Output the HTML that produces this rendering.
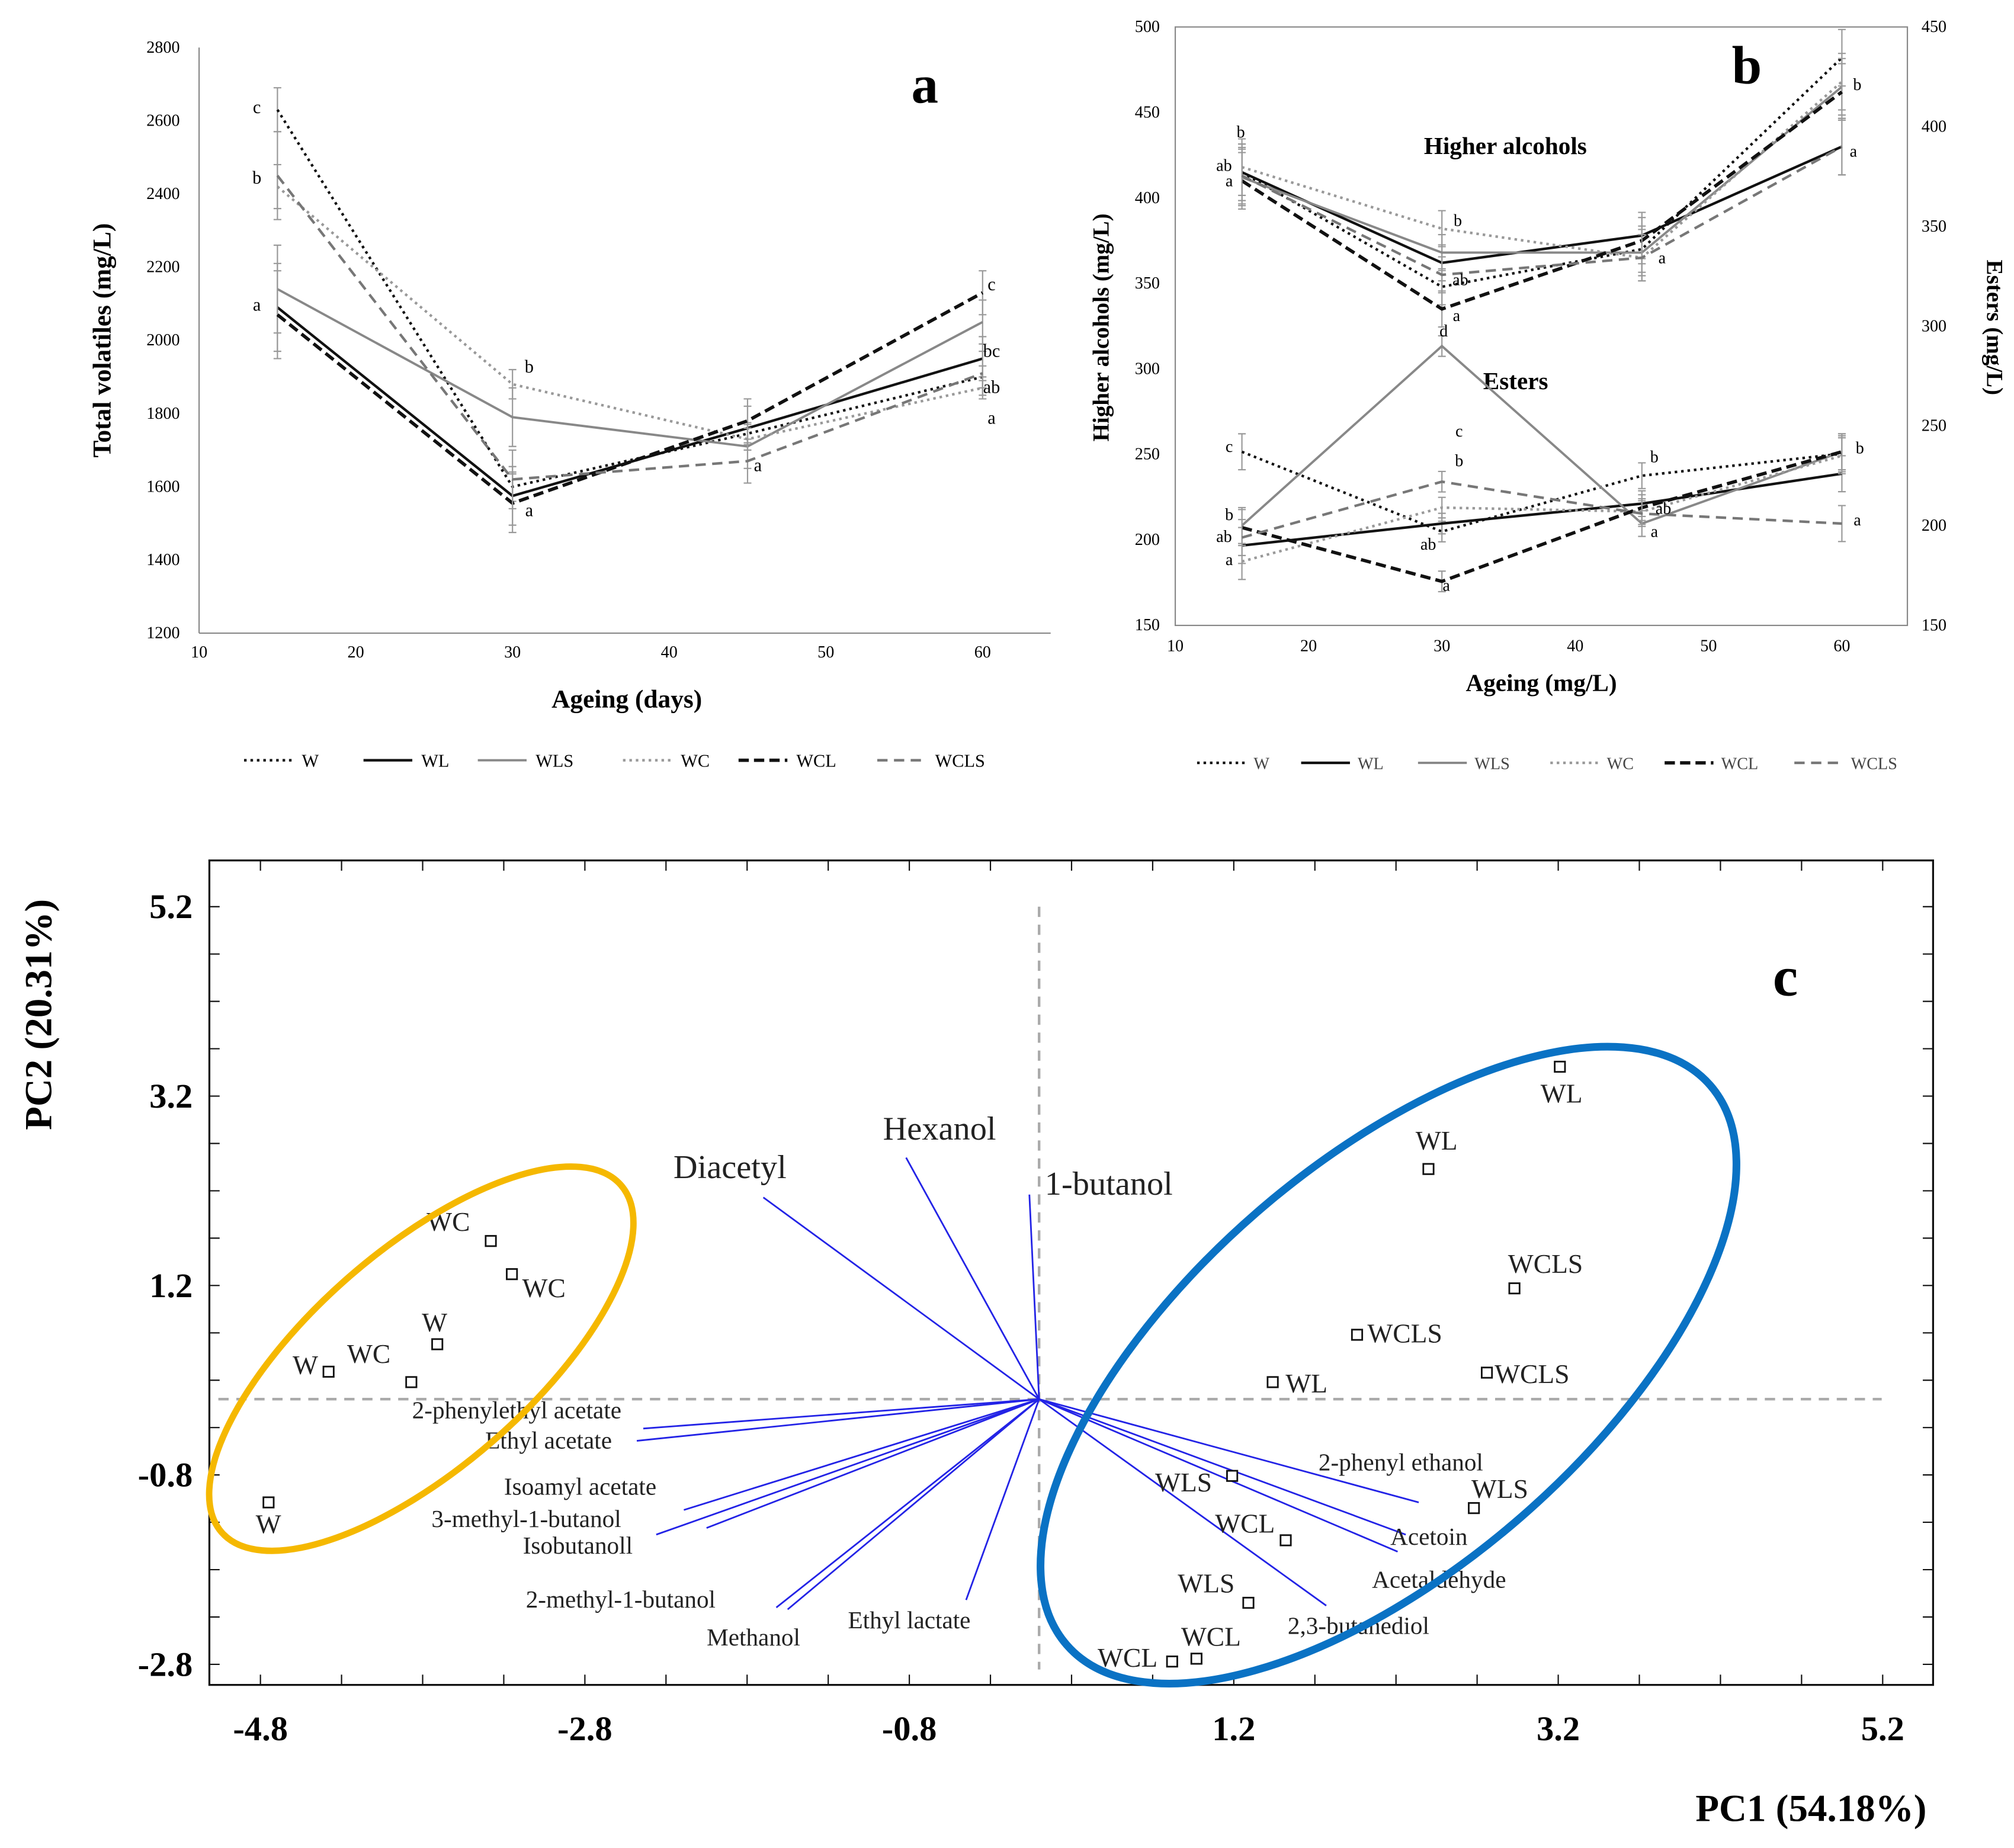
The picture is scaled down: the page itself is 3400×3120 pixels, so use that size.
<!DOCTYPE html>
<html><head><meta charset="utf-8"><style>
html,body{margin:0;padding:0;background:#fff}
svg{display:block;font-family:"Liberation Serif",serif}
</style></head><body>
<svg id="fig" width="3400" height="3120" viewBox="0 0 1568 1439" preserveAspectRatio="none" xmlns="http://www.w3.org/2000/svg">
<rect width="1568" height="1439" fill="#fff"/>
<g id="pa"></g>
<g id="pb"></g>
<g id="pc"></g>
</svg>
<script>
// ---------- data ----------
const seriesNames = ["W","WL","WLS","WC","WCL","WCLS"];
const days = [15,30,45,60];
const totalW    = [2630,1600,1745,1900];
const totalWL   = [2090,1575,1760,1950];
const totalWLS  = [2140,1790,1710,2050];
const totalWC   = [2420,1880,1730,1870];
const totalWCL  = [2070,1555,1780,2130];
const totalWCLS = [2450,1620,1670,1910];
const totalErr  = [120,80,60,60];
const aTicksX = [10,20,30,40,50,60];
const aTicksY = [1200,1400,1600,1800,2000,2200,2400,2600,2800];
const alcW    = [415,348,370,482];
const alcWL   = [415,362,378,430];
const alcWLS  = [412,368,368,465];
const alcWC   = [418,382,365,468];
const alcWCL  = [410,335,375,462];
const alcWCLS = [413,355,365,430];
const estW    = [237,197,225,236];
const estWL   = [190,201,211,226];
const estWLS  = [200,290,201,237];
const estWC   = [182,209,207,235];
const estWCL  = [199,172,209,237];
const estWCLS = [194,222,206,201];
const bTicksY = [150,200,250,300,350,400,450,500];
const bTicksY2 = [150,200,250,300,350,400,450];
const pcLabels = ["W","W","W","WC","WC","WC","WL","WL","WL","WCLS","WCLS","WCLS","WLS","WLS","WLS","WCL","WCL","WCL"];
const pcX = [-4.75,-4.38,-3.71,-3.87,-3.38,-3.25,3.21,2.40,1.44,2.93,1.96,2.76,1.19,2.68,1.29,1.52,0.82,0.97];
const pcY = [-1.09,0.29,0.58,0.18,1.67,1.32,3.51,2.43,0.18,1.17,0.68,0.28,-0.81,-1.15,-2.15,-1.49,-2.77,-2.74];
const loadNames = ["Diacetyl","Hexanol","1-butanol","2-phenylethyl acetate","Ethyl acetate","Isoamyl acetate","3-methyl-1-butanol","Isobutanoll","2-methyl-1-butanol","Methanol","Ethyl lactate","2-phenyl ethanol","Acetoin","Acetaldehyde","2,3-butanediol"];
const loadX = [-1.70,-0.82,-0.06,-2.44,-2.48,-2.19,-2.36,-2.05,-1.62,-1.55,-0.45,2.34,2.26,2.21,1.77];
const loadY = [2.13,2.55,2.16,-0.31,-0.44,-1.17,-1.43,-1.36,-2.20,-2.22,-2.12,-1.09,-1.43,-1.61,-2.18];
const cTicks = [-4.8,-2.8,-0.8,1.2,3.2,5.2];

// ---------- helpers ----------
const NS="http://www.w3.org/2000/svg";
function mk(parent,tag,attrs,txt){const e=document.createElementNS(NS,tag);for(const k in attrs)e.setAttribute(k,attrs[k]);if(txt!==undefined)e.textContent=txt;parent.appendChild(e);return e;}
const styles={
 W:{stroke:"#111",dash:"2,3",w:2},
 WL:{stroke:"#111",dash:"",w:2},
 WLS:{stroke:"#888",dash:"",w:1.8},
 WC:{stroke:"#999",dash:"2,3",w:2},
 WCL:{stroke:"#111",dash:"8,4",w:2.6},
 WCLS:{stroke:"#777",dash:"8,5",w:2}
};

// ---------- panel a ----------
const pa=document.getElementById("pa");
const ax=v=>155+(v-10)*12.2, ay=v=>37+(2800-v)*0.285;
mk(pa,"line",{x1:155,y1:37,x2:155,y2:493,stroke:"#888","stroke-width":1});
mk(pa,"line",{x1:155,y1:493,x2:818,y2:493,stroke:"#888","stroke-width":1});
aTicksY.forEach(t=>{const e=mk(pa,"text",{x:140,y:ay(t)+4,"font-size":13,"text-anchor":"end"},t);
});
aTicksX.forEach(t=>{const e=mk(pa,"text",{x:ax(t),y:512,"font-size":13,"text-anchor":"middle"},t);
});
mk(pa,"text",{x:488,y:551,"font-size":20,"font-weight":"bold","text-anchor":"middle"},"Ageing (days)");
mk(pa,"text",{x:86,y:265,"font-size":20,"font-weight":"bold","text-anchor":"middle",transform:"rotate(-90 86 265)"},"Total volatiles (mg/L)");
mk(pa,"text",{x:720,y:80,"font-size":42,"font-weight":"bold","text-anchor":"middle"},"a");
const aData={W:totalW,WL:totalWL,WLS:totalWLS,WC:totalWC,WCL:totalWCL,WCLS:totalWCLS};
seriesNames.forEach(n=>{const s=styles[n];
 days.forEach((d,i)=>{const v=aData[n][i];const e=totalErr[i]*(n==="WC"||n==="W"?0.5:1);
  const g=mk(pa,"path",{d:`M${ax(d)},${ay(v-e)}V${ay(v+e)}M${ax(d)-3},${ay(v-e)}h6M${ax(d)-3},${ay(v+e)}h6`,stroke:"#999","stroke-width":1,fill:"none"});
  });
 const p=mk(pa,"polyline",{points:days.map((d,i)=>ax(d)+","+ay(aData[n][i])).join(" "),fill:"none",stroke:s.stroke,"stroke-width":s.w,"stroke-dasharray":s.dash});
 });
[["c",200,88],["b",200,143],["a",200,242],["b",412,290],["a",412,402],["a",590,367],["c",772,226],["bc",772,278],["ab",772,306],["a",772,330]].forEach(l=>{
 const e=mk(pa,"text",{x:l[1],y:l[2],"font-size":14,"text-anchor":"middle"},l[0]);});
const legA=[190,283,372,485,575,683];
seriesNames.forEach((n,i)=>{const s=styles[n];
 const l=mk(pa,"line",{x1:legA[i],y1:592,x2:legA[i]+38,y2:592,stroke:s.stroke,"stroke-width":s.w,"stroke-dasharray":s.dash});
 
 const t=mk(pa,"text",{x:legA[i]+45,y:597,"font-size":14},n);});

// ---------- panel b ----------
const pb=document.getElementById("pb");
const bx=v=>915+(v-10)*10.38, by=v=>21+(500-v)*1.331, by2=v=>21+(450-v)*1.553;
mk(pb,"rect",{x:915,y:21,width:570,height:466,fill:"none",stroke:"#888","stroke-width":1});
bTicksY.forEach(t=>{const e=mk(pb,"text",{x:903,y:by(t)+4,"font-size":13,"text-anchor":"end"},t);});
bTicksY2.forEach(t=>{const e=mk(pb,"text",{x:1496,y:by2(t)+4,"font-size":13},t);});
aTicksX.forEach(t=>{const e=mk(pb,"text",{x:bx(t),y:507,"font-size":13,"text-anchor":"middle"},t);});
mk(pb,"text",{x:1200,y:538,"font-size":19,"font-weight":"bold","text-anchor":"middle"},"Ageing (mg/L)");
mk(pb,"text",{x:863,y:255,"font-size":18,"font-weight":"bold","text-anchor":"middle",transform:"rotate(-90 863 255)"},"Higher alcohols (mg/L)");
mk(pb,"text",{x:1547,y:255,"font-size":18,"font-weight":"bold","text-anchor":"middle",transform:"rotate(90 1547 255)"},"Esters (mg/L)");
mk(pb,"text",{x:1360,y:65,"font-size":42,"font-weight":"bold","text-anchor":"middle"},"b");
mk(pb,"text",{x:1172,y:120,"font-size":19,"font-weight":"bold","text-anchor":"middle"},"Higher alcohols");
mk(pb,"text",{x:1180,y:303,"font-size":19,"font-weight":"bold","text-anchor":"middle"},"Esters");
const alc={W:alcW,WL:alcWL,WLS:alcWLS,WC:alcWC,WCL:alcWCL,WCLS:alcWCLS};
const est={W:estW,WL:estWL,WLS:estWLS,WC:estWC,WCL:estWCL,WCLS:estWCLS};
function bLines(data,yf,name,err){seriesNames.forEach(n=>{const s=styles[n];
 days.forEach((d,i)=>{const y=yf(data[n][i]);const e=err[i];
  const g=mk(pb,"path",{d:`M${bx(d)},${y-e}V${y+e}M${bx(d)-3},${y-e}h6M${bx(d)-3},${y+e}h6`,stroke:"#999","stroke-width":1,fill:"none"});
  });
 const p=mk(pb,"polyline",{points:days.map((d,i)=>bx(d)+","+yf(data[n][i])).join(" "),fill:"none",stroke:s.stroke,"stroke-width":s.w,"stroke-dasharray":s.dash});
 });}
bLines(alc,by,"alcohols",[22,14,18,22]);
bLines(est,by2,"esters",[14,8,10,14]);
[["b",966,107],["ab",953,133],["a",957,145],["b",1135,176],["ab",1137,222],["a",1134,250],["a",1294,205],["b",1446,70],["a",1443,122],
 ["c",957,352],["b",957,405],["ab",953,422],["a",957,440],["d",1124,262],["c",1136,340],["b",1136,363],["ab",1112,428],["a",1126,460],["b",1288,360],["ab",1295,400],["a",1288,418],["b",1448,353],["a",1446,409]].forEach(l=>{
 const e=mk(pb,"text",{x:l[1],y:l[2],"font-size":13,"text-anchor":"middle"},l[0]);});
const legB=[932,1013,1104,1207,1296,1397];
seriesNames.forEach((n,i)=>{const s=styles[n];
 const l=mk(pb,"line",{x1:legB[i],y1:594,x2:legB[i]+38,y2:594,stroke:s.stroke,"stroke-width":s.w,"stroke-dasharray":s.dash});
 
 const t=mk(pb,"text",{x:legB[i]+44,y:599,"font-size":13,fill:"#444"},n);});

// ---------- panel c ----------
const pc=document.getElementById("pc");
const cx=v=>809+v*126.3, cy=v=>1089.5-v*73.75;
mk(pc,"rect",{x:163,y:670,width:1342,height:642,fill:"none",stroke:"#111","stroke-width":1.5});
for(let v=-5.3;v<=5.7;v+=0.5){const x=cx(v);if(x<165||x>1503)continue;
 mk(pc,"line",{x1:x,y1:1312,x2:x,y2:1304,stroke:"#111","stroke-width":1});mk(pc,"line",{x1:x,y1:670,x2:x,y2:678,stroke:"#111","stroke-width":1});}
for(let v=-3.3;v<=5.7;v+=0.5){const y=cy(v);if(y<672||y>1310)continue;
 mk(pc,"line",{x1:163,y1:y,x2:171,y2:y,stroke:"#111","stroke-width":1});mk(pc,"line",{x1:1505,y1:y,x2:1497,y2:y,stroke:"#111","stroke-width":1});}
cTicks.forEach(t=>{
 const e=mk(pc,"text",{x:cx(t),y:1355,"font-size":27,"font-weight":"bold","text-anchor":"middle"},t);
 if(t>-3){const f=mk(pc,"text",{x:150,y:cy(t)+9,"font-size":27,"font-weight":"bold","text-anchor":"end"},t);}});
mk(pc,"text",{x:1410,y:1418,"font-size":30,"font-weight":"bold","text-anchor":"middle"},"PC1 (54.18%)");
mk(pc,"text",{x:40,y:790,"font-size":30,"font-weight":"bold","text-anchor":"middle",transform:"rotate(-90 40 790)"},"PC2 (20.31%)");
mk(pc,"text",{x:1390,y:775,"font-size":44,"font-weight":"bold","text-anchor":"middle"},"c");
mk(pc,"line",{x1:cx(0),y1:706,x2:cx(0),y2:1300,stroke:"#aaa","stroke-width":2,"stroke-dasharray":"8,6"});
mk(pc,"line",{x1:170,y1:cy(0),x2:1465,y2:cy(0),stroke:"#aaa","stroke-width":2,"stroke-dasharray":"8,6"});
const lblOff=[[-10,24],[-28,2],[-12,-10],[-50,-15],[-50,-8],[8,18],[-15,28],[-10,-15],[10,8],[-5,-12],[8,6],[6,8],[-60,12],[-2,-8],[-55,-8],[-55,-6],[-58,4],[-12,-10]];
const loadOff=[[-70,-15],[-18,-14],[12,0],[-180,-8],[-118,6],[-140,-12],[-175,-6],[-143,20],[-195,0],[-63,28],[-92,22],[-78,-25],[-12,8],[-20,28],[-30,22]];
loadNames.forEach((n,i)=>{
 const l=mk(pc,"line",{x1:cx(0),y1:cy(0),x2:cx(loadX[i]),y2:cy(loadY[i]),stroke:"#2323e6","stroke-width":1.3});
 
 const big=i<3;const t=mk(pc,"text",{x:cx(loadX[i])+loadOff[i][0],y:cy(loadY[i])+loadOff[i][1],"font-size":big?26:19,fill:"#222"},n);
 });
pcLabels.forEach((n,i)=>{
 const r=mk(pc,"rect",{x:cx(pcX[i])-4,y:cy(pcY[i])-4,width:8,height:8,fill:"#fff",stroke:"#111","stroke-width":1.3});
 
 const t=mk(pc,"text",{x:cx(pcX[i])+lblOff[i][0],y:cy(pcY[i])+lblOff[i][1],"font-size":21,fill:"#222"},n);
 });
mk(pc,"ellipse",{cx:328,cy:1058,rx:206,ry:85,fill:"none",stroke:"#f5b800","stroke-width":5,transform:"rotate(-41 328 1058)"});
mk(pc,"ellipse",{cx:1081,cy:1063,rx:332,ry:157,fill:"none",stroke:"#0a72c4","stroke-width":6,transform:"rotate(-41 1081 1063)"});
</script>
</body></html>
